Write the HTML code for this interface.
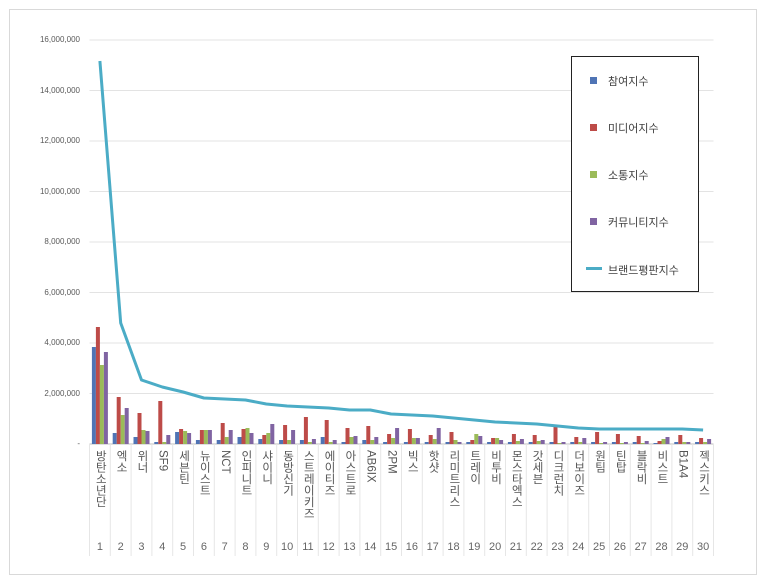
<!DOCTYPE html>
<html><head><meta charset="utf-8"><style>
body{margin:0;width:768px;height:587px;background:#fff;position:relative;overflow:hidden;font-family:"Liberation Sans","Noto Sans CJK KR",sans-serif}
.frame{position:absolute;left:9px;top:9px;width:748px;height:566px;border:1px solid #d9d9d9;box-sizing:border-box}
.yl{position:absolute;right:688px;font-size:8px;color:#595959;text-align:right}
.cl{position:absolute;top:450px;writing-mode:vertical-rl;font-size:11.5px;color:#555;line-height:21px;width:21px;text-align:left}
.cn{position:absolute;top:541px;font-size:11px;color:#666;width:21px;text-align:center}
.leg{position:absolute;left:571px;top:56px;width:128px;height:236px;border:1px solid #222;box-sizing:border-box;background:#fff}
.li{position:absolute;left:36px;font-size:11px;color:#404040}
.sw{position:absolute;left:18px;width:7px;height:7px}
</style></head><body>
<div class="frame"></div>
<svg id="s" width="768" height="587" style="position:absolute;left:0;top:0"></svg>
<div id="lab"></div>
<div class="leg">
<div class="sw" style="top:20px;background:#4f74b5"></div><div class="li" style="top:16px">참여지수</div>
<div class="sw" style="top:67px;background:#bd4b48"></div><div class="li" style="top:63px">미디어지수</div>
<div class="sw" style="top:114px;background:#9bbb59"></div><div class="li" style="top:110px">소통지수</div>
<div class="sw" style="top:161px;background:#8064a2"></div><div class="li" style="top:157px">커뮤니티지수</div>
<div style="position:absolute;left:14px;top:210px;width:16px;height:3px;background:#4bacc6"></div><div class="li" style="top:205px">브랜드평판지수</div>
</div>
<script>
var s=document.getElementById('s'),lab=document.getElementById('lab');
var h='';var x0=89.5,w=20.8,base=444,xe=x0+30*w;
for(var i=0;i<=8;i++){var y=base-i*50.5;h+='<line x1="'+x0+'" x2="'+xe+'" y1="'+y+'" y2="'+y+'" stroke="'+(i?'#e3e3e3':'#bfbfbf')+'"/>';
lab.innerHTML+='<div class="yl" style="top:'+(y-5)+'px">'+(i?(i*2).toLocaleString('en')+',000,000':'-')+'</div>';}
var names=['방탄소년단','엑소','위너','SF9','세븐틴','뉴이스트','NCT','인피니트','샤이니','동방신기','스트레이키즈','에이티즈','아스트로','AB6IX','2PM','빅스','핫샷','리미트리스','트레이','비투비','몬스타엑스','갓세븐','디크런치','더보이즈','원팀','틴탑','블락비','비스트','B1A4','젝스키스'];
var b=[[97,117,79,92],[11,47,29,36],[7,31,14,13],[2,43,2,9],[12,15,13,11],[4,14,14,14],[4,21,7,14],[7,15,16,11],[5,9,11,20],[4,19,4,14],[4,27,2,5],[7,24,2,4],[2,16,7,8],[4,18,4,7],[2,10,6,16],[2,15,6,6],[2,9,5,16],[2,12,4,2],[2,4,10,8],[2,6,6,4],[2,10,3,5],[2,9,3,4],[2,17,1,2],[2,7,2,6],[2,12,1,2],[2,10,1,2],[2,8,1,3],[1,3,5,7],[2,9,2,2],[2,6,2,5]];
var ly=[61,323,380,387,392,398,399,400,404,406,407,408,410,410,414,415,416,418,420,422,423,424,426,428,429,429,429,429,429,430];
var cols=['#4f74b5','#bd4b48','#9bbb59','#8064a2'];var pts=[];
for(var k=0;k<30;k++){var cx=x0+k*w,c=cx+w/2;
for(var j=0;j<4;j++){var bh=b[k][j];h+='<rect x="'+(c-8+j*4)+'" y="'+(base-bh)+'" width="4" height="'+bh+'" fill="'+cols[j]+'"/>';}
h+='<line x1="'+cx+'" x2="'+cx+'" y1="444" y2="556" stroke="#e6e6e6"/>';
pts.push(c+','+ly[k]);
lab.innerHTML+='<div class="cl" style="left:'+cx+'px;width:'+w+'px">'+names[k]+'</div><div class="cn" style="left:'+cx+'px;width:'+w+'px">'+(k+1)+'</div>';}
h+='<line x1="'+xe+'" x2="'+xe+'" y1="444" y2="556" stroke="#e6e6e6"/>';
h+='<polyline points="'+pts.join(' ')+'" fill="none" stroke="#4bacc6" stroke-width="3" stroke-linejoin="round"/>';
s.innerHTML=h;
</script>
</body></html>
